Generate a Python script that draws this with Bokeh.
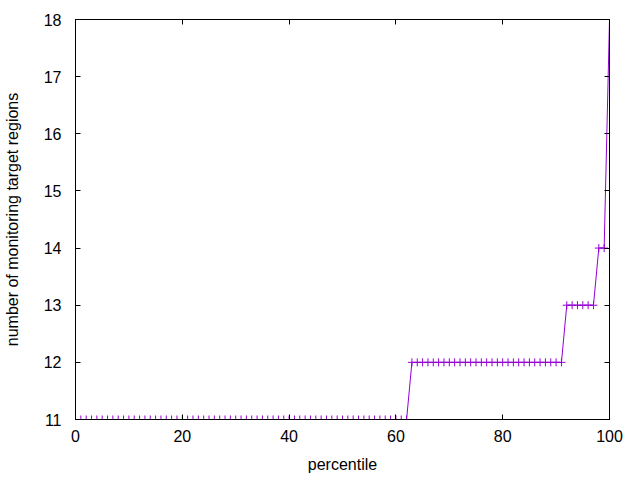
from bokeh.plotting import figure
from bokeh.models import Range1d, LinearAxis, FixedTicker
from bokeh.embed import file_html
from bokeh.resources import INLINE

percentile = list(range(0, 101))
regions = [11] * 63 + [12] * 29 + [13] * 6 + [14] * 2 + [18]

x_ticks = [0, 20, 40, 60, 80, 100]
y_ticks = [11, 12, 13, 14, 15, 16, 17, 18]

color = "#9400D3"
font = "Liberation Sans"

p = figure(width=632, height=475, output_backend="svg", toolbar_location=None,
           x_range=Range1d(0, 100), y_range=Range1d(11, 18),
           min_border_left=74, min_border_right=23, min_border_top=19, min_border_bottom=54)

p.line(percentile, regions, line_color=color, line_width=1)
p.scatter(percentile, regions, marker="cross", size=8, line_color=color, line_width=1)

p.xgrid.visible = False
p.ygrid.visible = False
p.outline_line_color = "black"
p.outline_line_width = 1

def style(ax, ticks, labels=True):
    ax.ticker = FixedTicker(ticks=ticks)
    ax.major_tick_in = 5
    ax.major_tick_out = 0
    ax.minor_tick_line_color = None
    ax.axis_line_color = "black"
    ax.major_tick_line_color = "black"
    ax.major_label_text_font = font
    ax.major_label_text_font_size = "16px"
    ax.major_label_text_color = "black"
    ax.axis_label_text_font = font
    ax.axis_label_text_font_size = "16px"
    ax.axis_label_text_font_style = "normal"
    ax.axis_label_text_color = "black"
    if not labels:
        ax.major_label_text_color = None
        ax.major_label_text_alpha = 0
        ax.major_label_text_font_size = "1px"
        ax.major_label_standoff = 0

style(p.xaxis[0], x_ticks)
p.xaxis[0].axis_label = "percentile"
p.xaxis[0].major_label_standoff = 10
p.xaxis[0].axis_label_standoff = 11

style(p.yaxis[0], y_ticks)
p.yaxis[0].axis_label = "number of monitoring target regions"
p.yaxis[0].major_label_standoff = 14
p.yaxis[0].axis_label_standoff = 20

top = LinearAxis()
style(top, x_ticks, labels=False)
p.add_layout(top, "above")
right = LinearAxis()
style(right, y_ticks, labels=False)
p.add_layout(right, "right")

open("out.html", "w").write(file_html(p, INLINE))
